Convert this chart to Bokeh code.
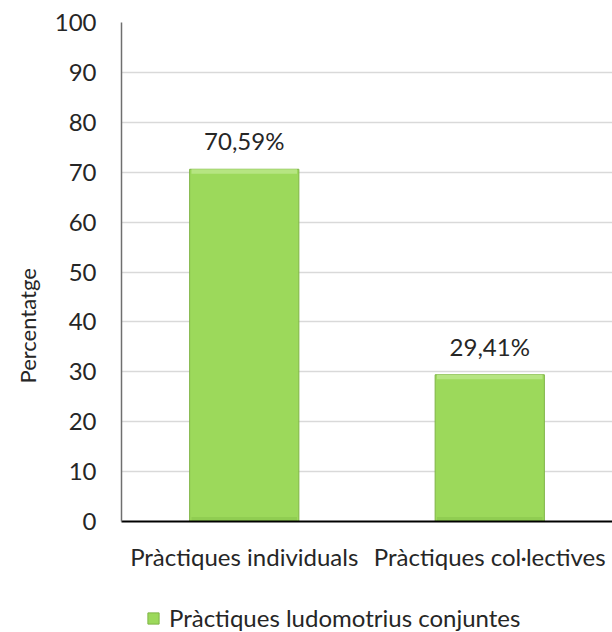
from bokeh.plotting import figure
from bokeh.layouts import column
from bokeh.models import FactorRange, Range1d, Legend, LegendItem, Title, ColumnDataSource
from bokeh.embed import file_html
from bokeh.resources import INLINE
from bokeh.core.properties import value

categories = ["Pràctiques individuals", "Pràctiques col·lectives"]
percentages = [70.59, 29.41]
bar_labels = ["70,59%", "29,41%"]
series_name = "Pràctiques ludomotrius conjuntes"
y_ticks = [0, 10, 20, 30, 40, 50, 60, 70, 80, 90, 100]
y_title = "Percentatge"

FONT = "Lato"
TXT = "#262626"
BAR = "#9CD95B"
BAR_LINE = "#7FB446"

src = ColumnDataSource(dict(cat=categories, val=percentages, lab=bar_labels,
                            bevel_top=[v - 0.9 for v in percentages]))

p = figure(width=612, height=590,
           x_range=FactorRange(factors=categories, range_padding=0),
           y_range=Range1d(0, 100),
           output_backend="svg", toolbar_location=None,
           min_border_left=118, min_border_right=0, min_border_top=22,
           min_border_bottom=69)

bars = p.vbar(x="cat", top="val", width=0.445, source=src,
              fill_color=BAR, line_color=BAR_LINE, line_width=1)
# bevel highlight at the top of each bar and soft shade at bottom
p.vbar(x="cat", top="val", bottom="bevel_top", width=0.43, source=src,
       fill_color="#B6E582", line_color=None)
p.vbar(x="cat", top=0.9, bottom=0, width=0.43, source=src,
       fill_color="#90CD52", line_color=None)

p.text(x="cat", y="val", text="lab", source=src, y_offset=-14,
       text_align="center", text_baseline="bottom",
       text_font=value(FONT), text_font_size="24px", text_color=TXT)

p.outline_line_color = None
p.xgrid.grid_line_color = None
p.ygrid.grid_line_color = "#D9D9D9"
p.ygrid.grid_line_width = 1.5

p.yaxis.ticker = y_ticks
p.yaxis.major_tick_line_color = None
p.yaxis.minor_tick_line_color = None
p.yaxis.major_tick_out = 0
p.yaxis.major_tick_in = 0
p.yaxis.axis_line_color = "#6f6f6f"
p.yaxis.axis_line_width = 1.5
p.yaxis.major_label_standoff = 25
p.yaxis.major_label_text_font = FONT
p.yaxis.major_label_text_font_size = "24px"
p.yaxis.major_label_text_color = TXT

p.xaxis.major_tick_line_color = None
p.xaxis.minor_tick_line_color = None
p.xaxis.major_tick_out = 0
p.xaxis.major_tick_in = 0
p.xaxis.axis_line_color = "black"
p.xaxis.axis_line_width = 2
p.xaxis.major_label_standoff = 20
p.xaxis.major_label_text_font = FONT
p.xaxis.major_label_text_font_size = "24px"
p.xaxis.major_label_text_color = TXT

ytitle = Title(text=y_title, align="left", offset=138, standoff=22,
               text_font=FONT, text_font_size="22px", text_font_style="normal",
               text_color=TXT)
p.add_layout(ytitle, "left")

# legend strip beneath the chart
leg_fig = figure(width=612, height=42,
                 x_range=FactorRange(factors=categories, range_padding=0),
                 y_range=Range1d(200, 300),
                 output_backend="svg", toolbar_location=None,
                 min_border_left=0, min_border_right=0, min_border_top=0,
                 min_border_bottom=0)
leg_fig.axis.visible = False
leg_fig.grid.visible = False
leg_fig.outline_line_color = None
leg_bars = leg_fig.vbar(x="cat", top="val", width=0.445, source=src,
                        fill_color=BAR, line_color=BAR_LINE, line_width=1)
legend = Legend(items=[LegendItem(label=series_name, renderers=[leg_bars])],
                location=(25, 0), orientation="horizontal",
                border_line_color=None, background_fill_alpha=0,
                padding=0, margin=0, glyph_width=14, glyph_height=14,
                label_height=14, label_standoff=9, label_text_font=FONT,
                label_text_font_size="24px", label_text_color=TXT)
leg_fig.add_layout(legend, "center")

layout = column(p, leg_fig, spacing=0)
open("out.html", "w").write(file_html(layout, INLINE))
